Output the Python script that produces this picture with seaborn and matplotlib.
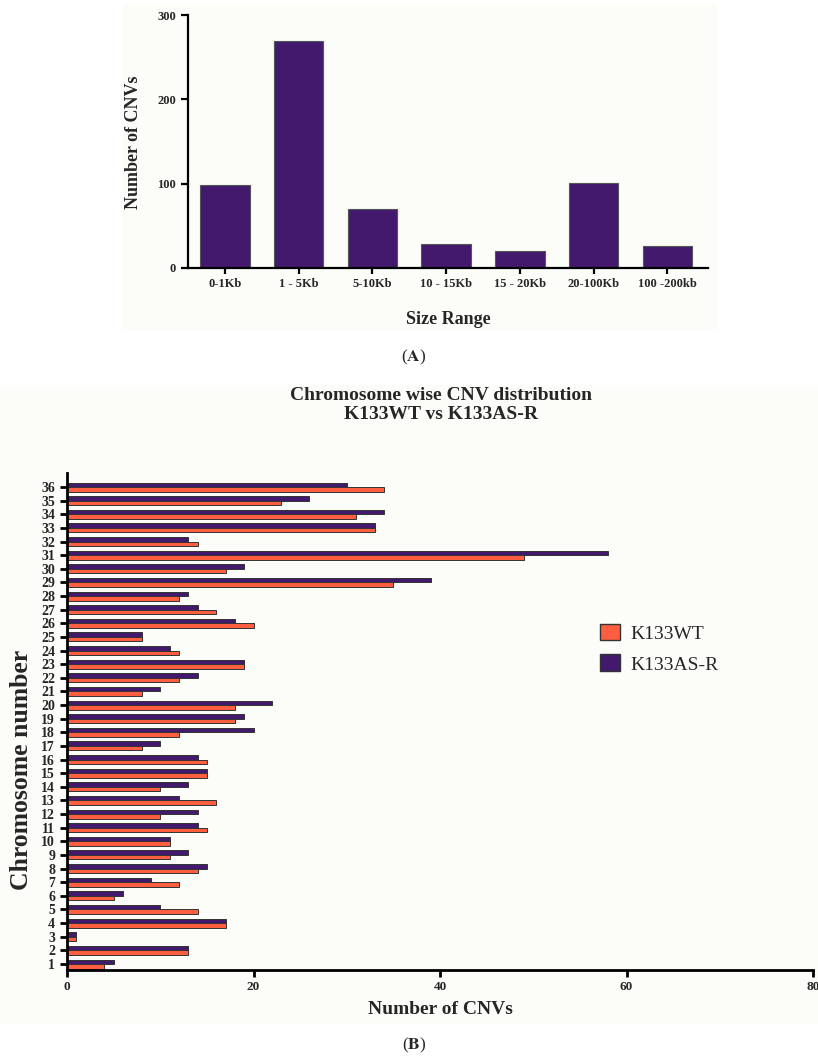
import pandas as pd
import matplotlib
matplotlib.use("Agg")
import matplotlib.pyplot as plt
import seaborn as sns
from matplotlib.patches import Patch, Rectangle

# panel A data
size_ranges = ['0-1Kb', '1 - 5Kb', '5-10Kb', '10 - 15Kb', '15 - 20Kb', '20-100Kb', '100 -200kb']
cnv_counts = [98, 269, 70, 28, 20, 101, 26]

# panel B data (chromosomes 1..36)
chromosomes = [str(i) for i in range(1, 37)]
k133wt = [4, 13, 1, 17, 14, 5, 12, 14, 11, 11, 15, 10, 16, 10, 15, 15, 8, 12,
          18, 18, 8, 12, 19, 12, 8, 20, 16, 12, 35, 17, 49, 14, 33, 31, 23, 34]
k133asr = [5, 13, 1, 17, 10, 6, 9, 15, 13, 11, 14, 14, 12, 13, 15, 14, 10, 20,
           19, 22, 10, 14, 19, 11, 8, 18, 14, 13, 39, 19, 58, 13, 33, 34, 26, 30]

PURPLE = '#43196E'
ORANGE = '#FF5F40'
W, H = 818, 1061


def fig_box(fig, x0, y0, x1, y1):
    # pixel box (top-left origin) -> figure fraction rect
    return [x0 / W, 1 - y1 / H, (x1 - x0) / W, (y1 - y0) / H]


def style_axis(ax, lw):
    sns.despine(ax=ax)
    for side in ['left', 'bottom']:
        ax.spines[side].set_linewidth(lw)
        ax.spines[side].set_color('black')
    ax.tick_params(width=lw, length=5, color='black', direction='out')


def plot_size_range(fig):
    ax = fig.add_axes(fig_box(fig, 188, 15, 708, 268))
    ax.set_facecolor('none')
    df = pd.DataFrame({'size': size_ranges, 'count': cnv_counts})
    sns.barplot(data=df, x='size', y='count', color=PURPLE, saturation=1,
                width=0.67, edgecolor='#555555', linewidth=0.8, ax=ax)
    ax.set_ylim(0, 300)
    ax.set_xlim(-0.5, 6.55)
    ax.set_yticks([0, 100, 200, 300])
    ax.set_xlabel('')
    ax.set_ylabel('')
    style_axis(ax, 1.6)
    ax.tick_params(axis='x', length=4)
    for lab in ax.get_xticklabels() + ax.get_yticklabels():
        lab.set_fontweight('bold')
        lab.set_fontsize(9)
    fig.text(448 / W, 1 - 320 / H, 'Size Range', ha='center', va='center',
             fontsize=13, fontweight='bold')
    fig.text(133 / W, 1 - 142 / H, 'Number of CNVs', ha='center', va='center',
             rotation=90, fontsize=13, fontweight='bold')
    fig.text(414 / W, 1 - 357 / H, r'($\mathbf{A}$)', ha='center', va='center',
             fontsize=12.5)


def plot_chromosomes(fig):
    ax = fig.add_axes(fig_box(fig, 67, 473, 813, 970))
    ax.set_facecolor('none')
    df = pd.DataFrame({
        'chrom': chromosomes * 2,
        'count': k133wt + k133asr,
        'strain': ['K133WT'] * 36 + ['K133AS-R'] * 36,
    })
    sns.barplot(data=df, y='chrom', x='count', hue='strain', orient='h',
                order=chromosomes[::-1], hue_order=['K133AS-R', 'K133WT'],
                palette={'K133WT': ORANGE, 'K133AS-R': PURPLE}, saturation=1,
                width=0.66, edgecolor='#333333', linewidth=0.7, legend=False, ax=ax)
    ax.set_xlim(0, 80)
    ax.set_ylim(35.44, -1.03)
    ax.set_xticks([0, 20, 40, 60, 80])
    ax.set_xlabel('')
    ax.set_ylabel('')
    style_axis(ax, 2.0)
    ax.tick_params(axis='x', pad=3)
    for lab in ax.get_yticklabels():
        lab.set_fontweight('bold')
        lab.set_fontsize(10)
    for lab in ax.get_xticklabels():
        lab.set_fontweight('bold')
        lab.set_fontsize(9.5)
    handles = [Patch(facecolor=ORANGE, edgecolor='#333333', label='K133WT'),
               Patch(facecolor=PURPLE, edgecolor='#333333', label='K133AS-R')]
    fig.legend(handles=handles, loc='upper left', frameon=False,
               bbox_to_anchor=(590 / W, 1 - 614 / H), borderpad=0,
               fontsize=14, handlelength=1.05, handleheight=0.95,
               handletextpad=0.55, labelspacing=0.6)
    fig.text(441 / W, 1 - 405 / H, 'Chromosome wise CNV distribution\nK133WT vs K133AS-R',
             ha='center', va='center', fontsize=14, fontweight='bold', linespacing=1.1)
    fig.text(440 / W, 1 - 1009 / H, 'Number of CNVs', ha='center', va='center',
             fontsize=14, fontweight='bold')
    fig.text(22 / W, 1 - 770 / H, 'Chromosome number', ha='center', va='center',
             rotation=90, fontsize=18.5, fontweight='bold')
    fig.text(414 / W, 1 - 1045 / H, r'($\mathbf{B}$)', ha='center', va='center',
             fontsize=12.5)


if __name__ == "__main__":
    sns.set_style('ticks')
    plt.rcParams['font.family'] = ['Liberation Serif', 'DejaVu Serif']
    plt.rcParams['mathtext.fontset'] = 'stix'

    fig = plt.figure(figsize=(8.18, 10.61), dpi=100)
    fig.patch.set_facecolor('white')
    # light off-white panel backgrounds like the scanned figure
    fig.patches.append(Rectangle((123 / W, 1 - 330 / H), 594 / W, 325 / H,
                                 transform=fig.transFigure, facecolor='#FCFCF8',
                                 edgecolor='none', zorder=-10))
    fig.patches.append(Rectangle((0, 1 - 1024 / H), 1, 639 / H,
                                 transform=fig.transFigure, facecolor='#FCFCF8',
                                 edgecolor='none', zorder=-10))

    plot_size_range(fig)
    plot_chromosomes(fig)
    fig.savefig('out.png', dpi=100)
